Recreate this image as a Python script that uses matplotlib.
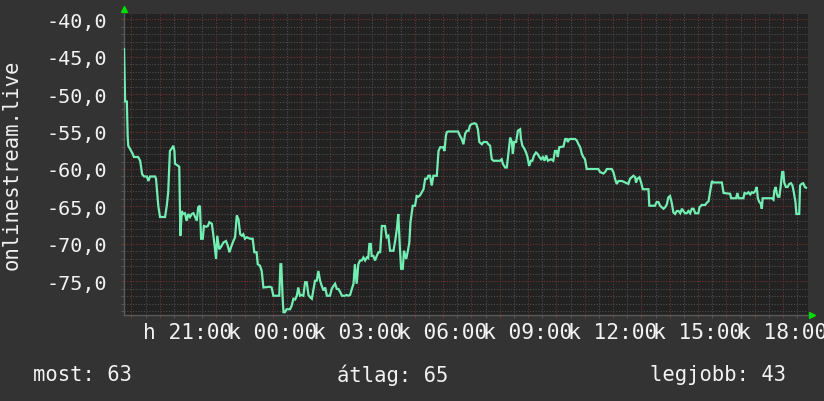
import matplotlib
matplotlib.use("Agg")
import matplotlib.pyplot as plt
from matplotlib.ticker import FixedLocator, MultipleLocator

# hours relative to 21:00 on the first day
hours = [
    -2.26, -2.22, -2.16, -2.13, -2.11, -2.05, -1.95, -1.91, -1.76, -1.69,
    -1.62, -1.55, -1.45, -1.40, -1.34, -1.16, -1.13, -1.05, -0.99, -0.81,
    -0.75, -0.70, -0.64, -0.58, -0.52, -0.48, -0.46, -0.34, -0.31, -0.27,
    -0.22, -0.17, -0.11, -0.05, 0.01, 0.07, 0.13, 0.19, 0.25, 0.31,
    0.36, 0.42, 0.46, 0.52, 0.56, 0.64, 0.70, 0.75, 0.84, 0.89,
    0.99, 1.03, 1.10, 1.16, 1.25, 1.34, 1.40, 1.46, 1.52, 1.60,
    1.66, 1.72, 1.78, 1.84, 1.90, 1.95, 2.01, 2.07, 2.19, 2.28,
    2.34, 2.42, 2.46, 2.54, 2.60, 2.66, 2.89, 2.95, 3.01, 3.22,
    3.26, 3.29, 3.34, 3.37, 3.42, 3.48, 3.60, 3.66, 3.72, 3.78,
    3.84, 3.89, 3.95, 4.01, 4.07, 4.13, 4.19, 4.25, 4.31, 4.37,
    4.42, 4.48, 4.54, 4.60, 4.66, 4.72, 4.78, 4.84, 4.90, 5.01,
    5.07, 5.13, 5.19, 5.25, 5.31, 5.37, 5.43, 5.54, 5.60, 5.66,
    5.72, 5.78, 5.84, 5.89, 5.95, 6.01, 6.07, 6.13, 6.19, 6.25,
    6.31, 6.36, 6.40, 6.45, 6.48, 6.54, 6.60, 6.66, 6.72, 6.78,
    6.84, 6.95, 7.01, 7.07, 7.13, 7.25, 7.31, 7.37, 7.42, 7.48,
    7.52, 7.58, 7.62, 7.70, 7.76, 7.81, 7.85, 7.93, 8.01, 8.07,
    8.13, 8.19, 8.25, 8.31, 8.37, 8.43, 8.48, 8.54, 8.60, 8.66,
    8.78, 8.84, 8.90, 9.00, 9.05, 9.10, 9.13, 9.18, 9.53, 9.60,
    9.66, 9.72, 9.78, 9.84, 9.90, 9.95, 10.01, 10.11, 10.17, 10.23,
    10.28, 10.37, 10.43, 10.48, 10.54, 10.60, 10.66, 10.72, 10.78, 11.01,
    11.07, 11.11, 11.19, 11.25, 11.31, 11.37, 11.43, 11.46, 11.51, 11.58,
    11.64, 11.72, 11.75, 11.80, 11.87, 11.93, 11.98, 12.04, 12.10, 12.15,
    12.21, 12.28, 12.34, 12.40, 12.46, 12.52, 12.58, 12.64, 12.70, 12.81,
    12.89, 12.95, 13.01, 13.05, 13.10, 13.25, 13.31, 13.37, 13.40, 13.46,
    13.66, 13.72, 13.78, 13.84, 13.90, 13.95, 14.01, 14.07, 14.48, 14.54,
    14.66, 14.72, 14.78, 14.95, 15.01, 15.07, 15.13, 15.19, 15.31, 15.43,
    15.54, 15.60, 15.66, 15.72, 15.78, 15.81, 15.86, 15.93, 15.99, 16.05,
    16.25, 16.28, 16.48, 16.54, 16.60, 16.66, 16.72, 16.78, 16.84, 16.90,
    16.95, 17.01, 17.07, 17.13, 17.19, 17.25, 17.31, 17.37, 17.43, 17.48,
    17.54, 17.60, 17.66, 17.72, 17.78, 17.84, 17.90, 18.01, 18.05, 18.13,
    18.25, 18.31, 18.37, 18.43, 18.49, 18.54, 18.84, 18.90, 19.13, 19.17,
    19.34, 19.39, 19.43, 19.60, 19.64, 19.72, 19.78, 19.84, 19.90, 19.95,
    20.01, 20.07, 20.11, 20.16, 20.21, 20.25, 20.28, 20.60, 20.66, 20.69,
    20.74, 20.78, 20.82, 20.87, 20.92, 20.97, 21.01, 21.04, 21.10, 21.16,
    21.22, 21.28, 21.33, 21.38, 21.44, 21.47, 21.57, 21.60, 21.65, 21.71,
    21.77, 21.81,
]
signal = [
    -44.0, -51.0, -51.0, -55.6, -56.9, -57.3, -58.0, -58.4, -58.4, -58.9,
    -60.7, -61.0, -61.0, -61.6, -61.0, -61.0, -61.3, -64.9, -66.4, -66.4,
    -64.9, -63.1, -57.6, -57.3, -56.9, -57.6, -59.3, -59.6, -59.7, -68.9,
    -65.6, -66.0, -65.9, -66.9, -66.0, -66.4, -66.0, -65.9, -66.4, -66.9,
    -65.1, -64.9, -69.3, -69.3, -67.6, -67.7, -67.6, -67.1, -67.3, -68.7,
    -72.0, -68.9, -70.7, -70.4, -69.8, -69.6, -70.2, -71.1, -70.4, -69.6,
    -69.1, -66.2, -66.7, -68.7, -68.9, -68.7, -69.3, -69.1, -69.3, -69.3,
    -71.1, -71.1, -72.7, -72.9, -73.6, -75.8, -75.7, -75.8, -76.9, -76.9,
    -72.7, -72.7, -77.3, -79.1, -79.1, -78.7, -78.7, -78.2, -77.3, -77.4,
    -76.9, -75.8, -76.9, -76.8, -76.9, -75.1, -75.1, -76.8, -77.1, -77.3,
    -76.2, -74.9, -74.9, -73.6, -74.9, -75.6, -76.2, -75.8, -76.9, -76.9,
    -76.0, -75.6, -75.3, -76.0, -76.0, -76.4, -76.9, -76.9, -76.8, -76.9,
    -76.8, -76.0, -75.3, -72.7, -75.3, -72.7, -72.2, -72.2, -71.8, -72.2,
    -71.8, -71.9, -70.0, -70.0, -71.6, -71.6, -72.2, -71.6, -71.1, -71.1,
    -67.6, -67.6, -69.1, -68.9, -70.9, -70.9, -69.6, -68.0, -66.0, -70.7,
    -73.3, -73.3, -70.9, -72.0, -70.9, -69.8, -67.1, -64.9, -64.9, -63.6,
    -63.7, -63.5, -63.1, -62.7, -61.3, -61.3, -60.9, -60.9, -62.2, -60.9,
    -60.9, -57.6, -57.1, -57.1, -57.6, -55.6, -55.1, -55.0, -55.0, -55.6,
    -56.0, -56.7, -55.3, -54.9, -54.9, -54.2, -54.0, -53.9, -54.0, -54.7,
    -56.4, -56.7, -56.4, -56.4, -56.4, -56.7, -56.9, -58.7, -58.9, -58.9,
    -58.7, -59.3, -59.8, -59.8, -57.8, -55.8, -56.4, -58.0, -56.4, -56.4,
    -54.9, -54.7, -56.0, -56.9, -57.3, -57.8, -58.4, -59.6, -58.9, -58.9,
    -58.2, -57.8, -58.0, -58.4, -58.7, -58.4, -58.9, -58.2, -58.9, -58.7,
    -58.9, -57.6, -57.6, -58.4, -57.1, -57.0, -56.0, -56.0, -56.4, -56.0,
    -56.0, -56.2, -56.7, -57.1, -58.0, -58.4, -58.7, -60.0, -60.0, -60.4,
    -60.6, -60.4, -60.0, -60.0, -60.4, -61.3, -62.0, -61.6, -61.6, -61.8,
    -62.0, -61.3, -61.1, -60.9, -61.1, -61.8, -61.3, -61.1, -61.8, -62.7,
    -62.7, -64.9, -64.9, -64.4, -64.4, -64.9, -65.1, -65.3, -65.1, -64.7,
    -63.8, -63.6, -64.5, -65.8, -66.0, -65.6, -65.6, -65.9, -65.3, -65.6,
    -65.9, -65.9, -65.6, -65.9, -65.3, -65.3, -65.9, -65.9, -65.1, -64.8,
    -64.8, -64.5, -64.3, -62.9, -61.6, -61.8, -61.8, -63.2, -63.3, -63.9,
    -63.9, -63.2, -63.9, -63.9, -63.2, -63.3, -63.1, -63.4, -63.1, -63.2,
    -63.0, -62.4, -63.9, -64.4, -64.6, -65.3, -63.9, -63.9, -64.1, -62.9,
    -62.4, -63.3, -63.7, -63.7, -62.2, -60.4, -60.4, -61.8, -62.4, -62.4,
    -62.0, -61.9, -62.2, -63.1, -64.5, -66.0, -66.0, -62.2, -62.0, -61.9,
    -62.4, -62.5,
]

label_hours = [0, 3, 6, 9, 12, 15, 18, 21]
time_labels = ['h 21:00', 'k 00:00', 'k 03:00', 'k 06:00',
               'k 09:00', 'k 12:00', 'k 15:00', 'k 18:00']
y_ticks = [-40, -45, -50, -55, -60, -65, -70, -75]
footer = [('most: 63', 33), ('átlag: 65', 337), ('legjobb: 43', 650)]

plt.rcParams['font.family'] = ['DejaVu Sans Mono']
fg = '#f2f2f2'

fig = plt.figure(figsize=(8.24, 4.02), dpi=100, facecolor='#333333')
ax = fig.add_axes([124 / 824, 1 - 315.7 / 402, 684 / 824, 300.7 / 402])
ax.set_facecolor('#222222')

ax.set_xlim(-2.26, 21.88)
ax.set_ylim(-79.43, -39.33)

# grid: red every hour / 5 units, grey dotted in between
ax.xaxis.set_major_locator(MultipleLocator(1))
ax.xaxis.set_minor_locator(MultipleLocator(0.5))
ax.yaxis.set_major_locator(FixedLocator(y_ticks))
ax.yaxis.set_minor_locator(MultipleLocator(1))
ax.grid(which='minor', color='#4e4e4e', linestyle=(0, (1, 1.5)), linewidth=0.8)
ax.grid(which='major', color='#733333', linestyle=(0, (1, 1.5)), linewidth=0.8)
ax.set_axisbelow(True)

xt = list(range(-2, 22))
ax.set_xticks(xt)
ax.set_xticklabels([time_labels[label_hours.index(h)] if h in label_hours else '' for h in xt])
ax.set_yticklabels(['%d,0' % v for v in y_ticks])

ax.tick_params(which='both', colors='#555555', length=2.5, width=0.8, direction='out')
ax.tick_params(axis='x', which='major', colors='#733333', labelcolor=fg, labelsize=15.3, pad=3)
ax.tick_params(axis='y', which='major', colors='#733333', labelcolor=fg, labelsize=14.5, pad=10)

for s in ['top', 'right']:
    ax.spines[s].set_visible(False)
for s in ['left', 'bottom']:
    ax.spines[s].set_color('#5a5a5a')
    ax.spines[s].set_linewidth(1)

ax.plot(hours, signal, color='#72eeb2', linewidth=1.6, solid_joinstyle='miter', zorder=3)

# little green arrow heads at the axis ends
ax.plot([0], [1.017], marker='^', color='#00dd00', markersize=4.5,
        transform=ax.transAxes, clip_on=False)
ax.plot([1.006], [0], marker='>', color='#00dd00', markersize=4.5,
        transform=ax.transAxes, clip_on=False)

fig.text(12 / 824, 1 - 165 / 402, 'onlinestream.live', rotation=90,
         ha='center', va='center', color=fg, fontsize=14.8)

for text, xpx in footer:
    fig.text(xpx / 824, 1 - 375 / 402, text, ha='left', va='center',
             color=fg, fontsize=14.8)

fig.savefig('out.png', dpi=100, facecolor=fig.get_facecolor())
